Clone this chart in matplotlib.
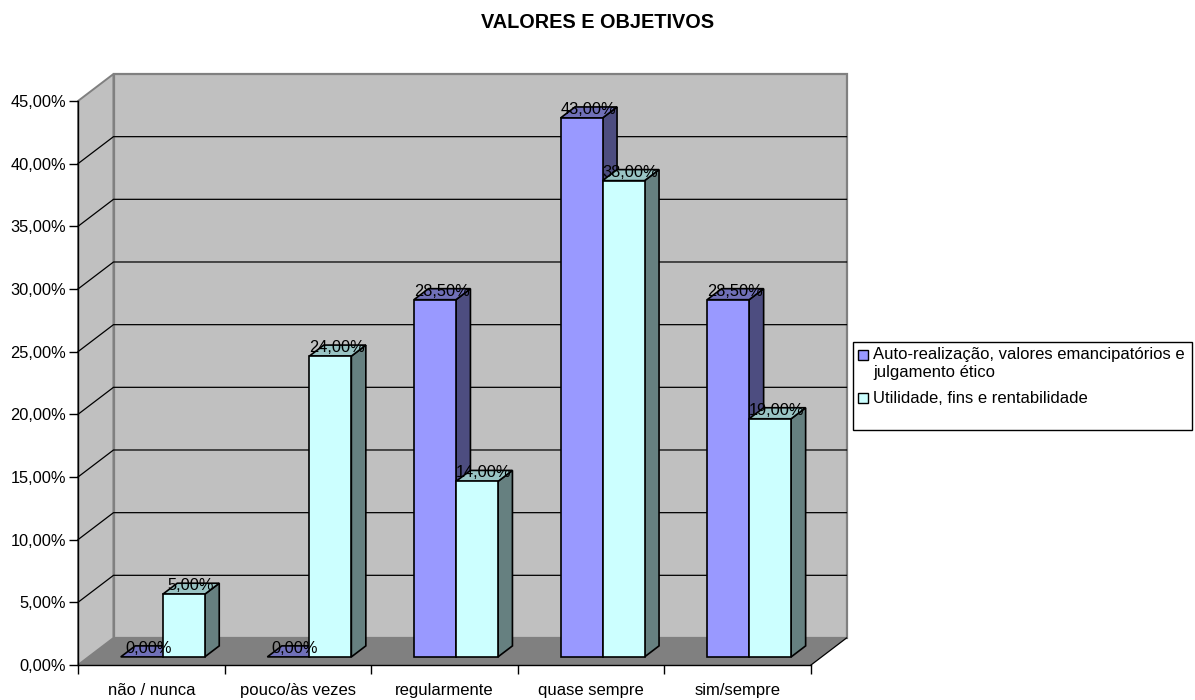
import matplotlib
matplotlib.use("Agg")
import matplotlib.pyplot as plt
from matplotlib.patches import Polygon, Rectangle

plt.rcParams['font.family'] = ['Liberation Sans', 'DejaVu Sans']

categories = ["não / nunca", "pouco/às vezes", "regularmente", "quase sempre", "sim/sempre"]
auto_realizacao = [0.0, 0.0, 28.5, 43.0, 28.5]
utilidade = [5.0, 24.0, 14.0, 38.0, 19.0]
series_names = ["Auto-realização, valores emancipatórios e\njulgamento ético", "Utilidade, fins e rentabilidade"]
y_ticks = [0, 5, 10, 15, 20, 25, 30, 35, 40, 45]

W, H = 1195, 700
FONT = 12.0

# oblique projection: how far the back wall is shifted, in data units
DX = 35.5 / 146.6
DY = 27 / 12.53
BAR_W = 0.2865
BAR_LEFT = 0.219
D0, D1 = 0.30, 0.708


def proj(x, v, d):
    return (x + d * DX, v + d * DY)


fig = plt.figure(figsize=(W / 100, H / 100), dpi=100)
ax = fig.add_axes([78 / W, (H - 665) / H, 733 / W, 564 / H])
ax.set_xlim(0, 5)
ax.set_ylim(0, 45)
ax.patch.set_visible(False)
for name in ['top', 'right']:
    ax.spines[name].set_visible(False)
ax.spines['left'].set_linewidth(1.0)
ax.spines['bottom'].set_linewidth(1.0)
ax.spines['left'].set_zorder(6)
ax.spines['bottom'].set_zorder(6)


def poly(pts, color, edge=None, lw=1.0, z=1):
    ax.add_patch(Polygon(pts, closed=True, facecolor=color, edgecolor=edge or 'none',
                         linewidth=lw, clip_on=False, zorder=z, joinstyle='miter'))


# walls and floor
poly([proj(0, 0, 0), proj(0, 45, 0), proj(0, 45, 1), proj(0, 0, 1)], '#c0c0c0', '#808080', 1.4)
poly([proj(0, 0, 1), proj(0, 45, 1), proj(5, 45, 1), proj(5, 0, 1)], '#c0c0c0', '#808080', 1.6)
poly([proj(0, 0, 0), proj(5, 0, 0), proj(5, 0, 1), proj(0, 0, 1)], '#808080', z=2)

# right edge of the floor
x1, y1 = zip(proj(5, 0, 0), proj(5, 0, 1))
ax.plot(x1, y1, color='black', lw=0.9, clip_on=False, zorder=3)

for v in y_ticks[1:-1]:
    xs, ys = zip(proj(0, v, 0), proj(0, v, 1), proj(5, v, 1))
    ax.plot(xs, ys, color='black', lw=0.9, clip_on=False, zorder=2, solid_joinstyle='miter')


def bar3d(x, v, front, top, side, z):
    w = BAR_W
    poly([proj(x + w, 0, D0), proj(x + w, v, D0), proj(x + w, v, D1), proj(x + w, 0, D1)], side, 'black', 1.2, z)
    poly([proj(x, v, D0), proj(x + w, v, D0), proj(x + w, v, D1), proj(x, v, D1)], top, 'black', 1.2, z)
    if v > 0:
        poly([proj(x, 0, D0), proj(x + w, 0, D0), proj(x + w, v, D0), proj(x, v, D0)], front, 'black', 1.2, z)


def bar_label(x, v):
    lx, _ = proj(x + BAR_W / 2, v, (D0 + D1) / 2)
    _, ly = proj(x, v, D1)
    ax.text(lx - 0.004, ly - 0.2, f"{v:.2f}%".replace('.', ','), ha='center', va='center',
            fontsize=11.8, color='black', zorder=10, clip_on=False)


for i in range(len(categories)):
    left = i + BAR_LEFT
    bar3d(left, auto_realizacao[i], '#9999ff', '#7070b8', '#4d4d80', 4 + i * 0.1)
    bar3d(left + BAR_W, utilidade[i], '#ccffff', '#99c4c4', '#668080', 4.05 + i * 0.1)
    bar_label(left, auto_realizacao[i])
    bar_label(left + BAR_W, utilidade[i])

ax.set_yticks(y_ticks)
ax.set_yticklabels([f"{v:.2f}%".replace('.', ',') for v in y_ticks], fontsize=11.8)
ax.tick_params(axis='y', length=6.5, width=1.0, pad=2)
ax.set_xticks(range(6))
ax.set_xticklabels([])
ax.tick_params(axis='x', length=6.5, width=1.0)
ax.set_xticks([i + 0.5 for i in range(5)], minor=True)
ax.set_xticklabels(categories, minor=True, fontsize=FONT)
ax.tick_params(axis='x', which='minor', length=0, pad=13)

fig.text(598 / W, 1 - 22 / H, "VALORES E OBJETIVOS", ha='center', va='center',
         fontsize=14.3, fontweight='bold')

# legend box
fig.add_artist(Rectangle((853 / W, 1 - 430 / H), 339 / W, 88 / H, transform=fig.transFigure,
                         facecolor='white', edgecolor='black', linewidth=1.0))
fig.add_artist(Rectangle((858 / W, 1 - 360 / H), 10 / W, 10 / H, transform=fig.transFigure,
                         facecolor='#9999ff', edgecolor='black', linewidth=1.0))
fig.add_artist(Rectangle((858 / W, 1 - 403 / H), 10 / W, 10 / H, transform=fig.transFigure,
                         facecolor='#ccffff', edgecolor='black', linewidth=1.0))
fig.text(873 / W, 1 - 347 / H, series_names[0], ha='left', va='top', fontsize=FONT, linespacing=1.25)
fig.text(873 / W, 1 - 399 / H, series_names[1], ha='left', va='center', fontsize=FONT)

fig.savefig("out.png", dpi=100)
